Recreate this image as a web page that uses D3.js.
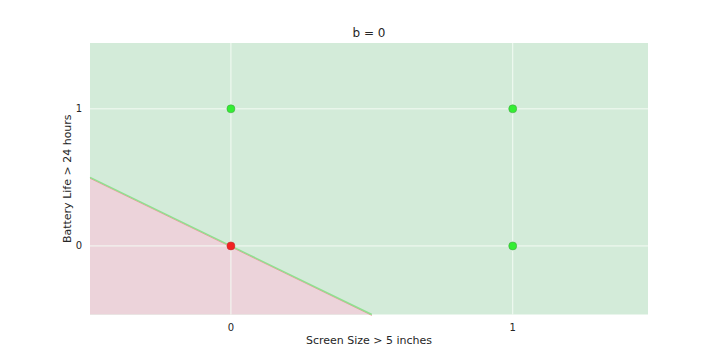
<!DOCTYPE html>
<html><head><meta charset="utf-8">
<script src="https://cdn.jsdelivr.net/npm/d3@7"></script>
<style>body{margin:0;background:#fff}text{font-family:"DejaVu Sans",sans-serif;fill:#262626}</style>
</head><body>
<svg id="c" width="720" height="360"></svg>
<script>
const title = "b = 0";
const xLabel = "Screen Size > 5 inches";
const yLabel = "Battery Life > 24 hours";
const pointX = [0, 0, 1, 1];
const pointY = [0, 1, 0, 1];
const pointClass = [0, 1, 1, 1];
const weights = [1, 1];
const bias = 0;
const xDomain = [-0.5, 1.48];
const yDomain = [-0.5, 1.48];
const xTicks = [0, 1];
const yTicks = [0, 1];

const svg = d3.select("#c");
const L = 90, R = 648, T = 43, B = 314.5;
const x = d3.scaleLinear().domain(xDomain).range([L, R]);
const y = d3.scaleLinear().domain(yDomain).range([B, T]);

svg.append("rect").attr("x", L).attr("y", T).attr("width", R - L).attr("height", B - T).attr("fill", "#d3ebd9");

const corners = [[xDomain[0], yDomain[0]], [xDomain[1], yDomain[0]], [xDomain[1], yDomain[1]], [xDomain[0], yDomain[1]]];
const f = p => weights[0] * p[0] + weights[1] * p[1] + bias;
const poly = [], seg = [];
for (let i = 0; i < 4; i++) {
  const a = corners[i], c = corners[(i + 1) % 4];
  const fa = f(a), fc = f(c);
  if (fa < 0) poly.push(a);
  if ((fa < 0) !== (fc < 0)) {
    const t = fa / (fa - fc);
    const p = [a[0] + t * (c[0] - a[0]), a[1] + t * (c[1] - a[1])];
    poly.push(p); seg.push(p);
  }
}
const line = d3.line().x(d => x(d[0])).y(d => y(d[1]));
svg.append("path").attr("d", line(poly) + "Z").attr("fill", "#ecd3da");

const g = svg.append("g");
xTicks.forEach(t => g.append("line").attr("x1", x(t)).attr("x2", x(t)).attr("y1", T).attr("y2", B).attr("stroke", "#f4fbf4").attr("stroke-width", 1));
yTicks.forEach(t => g.append("line").attr("y1", y(t)).attr("y2", y(t)).attr("x1", L).attr("x2", R).attr("stroke", "#f4fbf4").attr("stroke-width", 1));

if (seg.length === 2) {
  svg.append("path").attr("d", line(seg)).attr("transform", "translate(0,0.9)").attr("stroke", "#ec9a9a").attr("stroke-width", 1).attr("fill", "none");
  svg.append("path").attr("d", line(seg)).attr("stroke", "#8fe08f").attr("stroke-width", 1.4).attr("fill", "none");
}

pointX.forEach((px, i) => {
  const pos = pointClass[i] === 1;
  svg.append("circle").attr("cx", x(px)).attr("cy", y(pointY[i])).attr("r", 4)
    .attr("fill", pos ? "#33ee33" : "#f22222").attr("stroke", pos ? "#44a844" : "#c03030").attr("stroke-width", 0.6);
});

xTicks.forEach(t => svg.append("text").attr("x", x(t)).attr("y", B + 16).attr("text-anchor", "middle").attr("font-size", 10).text(t));
yTicks.forEach(t => svg.append("text").attr("x", L - 8).attr("y", y(t) + 3.5).attr("text-anchor", "end").attr("font-size", 10).text(t));

svg.append("text").attr("x", (L + R) / 2).attr("y", 344).attr("text-anchor", "middle").attr("font-size", 11).text(xLabel);
svg.append("text").attr("transform", `translate(71,${(T + B) / 2}) rotate(-90)`).attr("text-anchor", "middle").attr("font-size", 11).text(yLabel);
svg.append("text").attr("x", (L + R) / 2).attr("y", 37).attr("text-anchor", "middle").attr("font-size", 12).text(title);
</script>
</body></html>
